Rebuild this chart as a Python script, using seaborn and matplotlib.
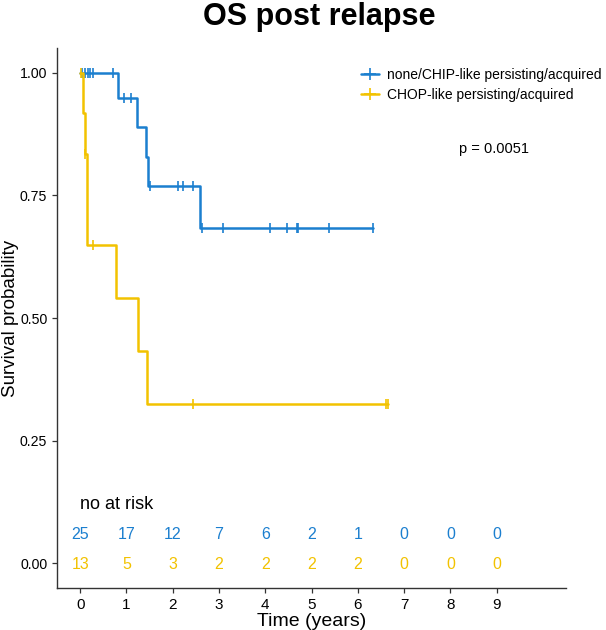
import numpy as np
import matplotlib
matplotlib.use("Agg")
import matplotlib.pyplot as plt
from matplotlib.lines import Line2D
import seaborn as sns

# patient-level follow-up (years) and event flags (1 = death, 0 = censored)
chip_times = [0.04, 0.10, 0.16, 0.22, 0.27, 0.72, 0.82, 0.95, 1.10, 1.23, 1.43, 1.47, 1.50,
              2.12, 2.22, 2.44, 2.59, 2.63, 3.09, 4.10, 4.47, 4.69, 4.71, 5.38, 6.33]
chip_events = [0, 0, 0, 0, 0, 0, 1, 0, 0, 1, 1, 1, 0,
               0, 0, 0, 1, 0, 0, 0, 0, 0, 0, 0, 0]
chop_times = [0.02, 0.065, 0.10, 0.11, 0.14, 0.15, 0.28, 0.78, 1.25, 1.45, 2.44, 6.60, 6.65]
chop_events = [0, 1, 1, 0, 1, 1, 0, 1, 1, 1, 0, 0, 0]

risk_times = [0, 1, 2, 3, 4, 5, 6, 7, 8, 9]
chip_risk = [25, 17, 12, 7, 6, 2, 1, 0, 0, 0]
chop_risk = [13, 5, 3, 2, 2, 2, 2, 0, 0, 0]

labels = ["none/CHIP-like persisting/acquired", "CHOP-like persisting/acquired"]
colors = ["#1B7FCF", "#F2C200"]
p_text = "p = 0.0051"


def km(times, events):
    t = np.array(times)
    e = np.array(events)
    order = np.argsort(t, kind="stable")
    t, e = t[order], e[order]
    n = len(t)
    s = 1.0
    xs, ys = [0.0], [1.0]
    cens_x, cens_y = [], []
    i = 0
    while i < n:
        j = i
        while j < n and t[j] == t[i]:
            j += 1
        d = e[i:j].sum()
        if d > 0:
            s *= 1 - d / (n - i)
            xs.append(t[i])
            ys.append(s)
        for k in range(i, j):
            if e[k] == 0:
                cens_x.append(t[k])
                cens_y.append(s)
        i = j
    xs.append(t.max())
    ys.append(s)
    return xs, ys, cens_x, cens_y


sns.set_theme(style="ticks")
plt.rcParams["font.family"] = ["Liberation Sans", "DejaVu Sans"]
for key in ["text.color", "axes.labelcolor", "xtick.color", "ytick.color"]:
    plt.rcParams[key] = "black"

fig = plt.figure(figsize=(6.06, 6.3), dpi=100)
ax = fig.add_axes([57 / 606, 1 - 588 / 630, (566 - 57) / 606, (588 - 48) / 630])

for times, events, col in [(chip_times, chip_events, colors[0]), (chop_times, chop_events, colors[1])]:
    xs, ys, cx, cy = km(times, events)
    sns.lineplot(x=xs, y=ys, drawstyle="steps-post", estimator=None, sort=False,
                 color=col, linewidth=1.8, ax=ax, legend=False)
    ax.plot(cx, cy, linestyle="none", marker="|", markersize=7, mew=1.2, color=col)

# number at risk table inside the plot area
ax.text(0, 0.12, "no at risk", fontsize=13, ha="left", va="center")
for t, a, b in zip(risk_times, chip_risk, chop_risk):
    ax.text(t, 0.058, str(a), color=colors[0], fontsize=11.5, ha="center", va="center")
    ax.text(t, -0.003, str(b), color=colors[1], fontsize=11.5, ha="center", va="center")

ax.text(8.95, 0.845, p_text, fontsize=10.5, ha="center", va="center")

handles = [Line2D([], [], color=c, lw=1.8, marker="+", markersize=8, mew=1.2) for c in colors]
ax.legend(handles, labels, loc="upper left", bbox_to_anchor=(354 / 606, 1 - 61 / 630),
          bbox_transform=fig.transFigure, frameon=False, fontsize=10,
          handlelength=1.3, handletextpad=0.6, labelspacing=0.4, borderpad=0)

ax.set_xlim(-0.5, 10.5)
ax.set_ylim(-0.05, 1.05)
ax.set_xticks(risk_times)
ax.set_yticks([0, 0.25, 0.5, 0.75, 1.0])
ax.set_yticklabels(["0.00", "0.25", "0.50", "0.75", "1.00"])
ax.tick_params(axis="x", labelsize=11)
ax.tick_params(axis="y", labelsize=10.2)
ax.tick_params(length=3.5, width=0.9, color="#333333")
for side in ["left", "bottom"]:
    ax.spines[side].set_color("#333333")
    ax.spines[side].set_linewidth(1.0)
sns.despine(ax=ax)

ax.set_xlabel("Time (years)", fontsize=14, labelpad=1)
ax.set_ylabel("Survival probability", fontsize=13.5)
ax.yaxis.set_label_coords((19 - 57) / 509, 0.5)
fig.text(319 / 606, 1 - 17 / 630, "OS post relapse", fontsize=22, fontweight="bold",
         ha="center", va="center")

fig.savefig("out.png", dpi=100)
